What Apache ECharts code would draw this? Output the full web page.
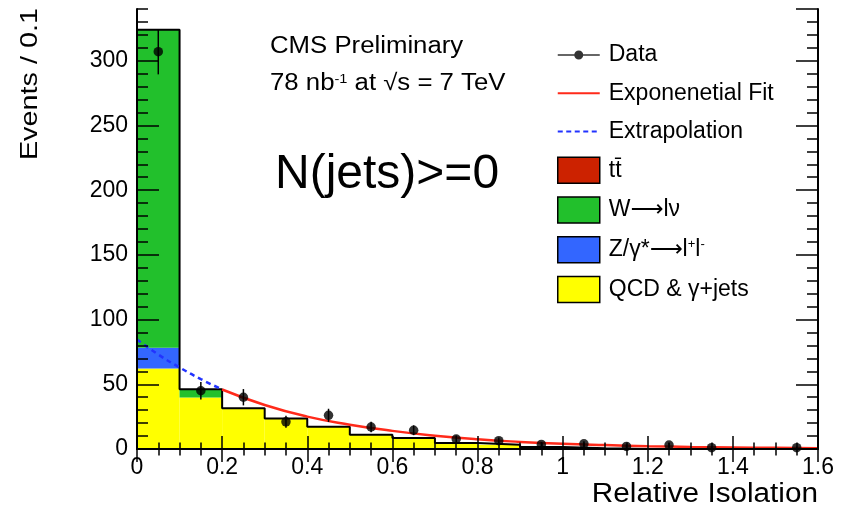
<!DOCTYPE html>
<html>
<head>
<meta charset="utf-8">
<script src="https://cdn.jsdelivr.net/npm/echarts@6/dist/echarts.min.js"></script>
<style>
  html, body { margin: 0; padding: 0; background: #fff; }
  #chart { width: 848px; height: 510px; }
</style>
</head>
<body>
<div id="chart"></div>
<script>
// Relative isolation, 0.1-wide bins (lower edges)
const binLow = [0, 0.1, 0.2, 0.3, 0.4, 0.5, 0.6, 0.7, 0.8, 0.9, 1.0, 1.1, 1.2, 1.3, 1.4, 1.5];
const binWidth = 0.1;

// Stacked simulation, events per bin
const qcdJets = [62.3, 39.7, 31.5, 23.5, 17.2, 11.0, 8.5, 4.6, 3.3, 1.6, 0.6, 0, 0, 0, 0, 0];
const zToLL   = [15.9, 0, 0, 0, 0, 0, 0, 0, 0, 0, 0, 0, 0, 0, 0, 0];
const wToLNu  = [245.7, 6.5, 0, 0, 0, 0, 0, 0, 0, 0, 0, 0, 0, 0, 0, 0];
const ttbar   = [0, 0, 0, 0, 0, 0, 0, 0, 0, 0, 0, 0, 0, 0, 0, 0];

// Observed data (bin centres), with statistical errors
const dataX   = [0.05, 0.15, 0.25, 0.35, 0.45, 0.55, 0.65, 0.75, 0.85, 0.95, 1.05, 1.15, 1.25, 1.35, 1.45, 1.55];
const dataY   = [307, 45, 40, 21, 26, 17, 14.5, 7.7, 6.4, 3.5, 4, 2, 3, 1, null, 1];
const dataErr = [17.5, 6.7, 6.3, 4.6, 5.1, 4.1, 3.8, 2.8, 2.5, 1.9, 2, 1.4, 1.7, 1, null, 1];

// Exponential fit in the sideband and its extrapolation into the signal region
const fitX    = [0.2, 0.3, 0.4, 0.5, 0.6, 0.7, 0.8, 0.9, 1.0, 1.1, 1.2, 1.3, 1.4, 1.5, 1.6];
const fitY    = [46, 34, 25, 18.8, 14, 10.3, 7.5, 5.5, 4, 3, 2.2, 1.6, 1.2, 0.9, 0.6];
const extrapX = [0, 0.05, 0.1, 0.15, 0.2];
const extrapY = [84.6, 73, 63, 54, 46];

// Axis ranges
const xRange = [0, 1.6];
const yRange = [0, 340];

const FONT = "'Liberation Sans', Arial, Helvetica, 'DejaVu Sans', sans-serif";
const chart = echarts.init(document.getElementById('chart'), null, { renderer: 'canvas' });

// Legend / series names
const NAME_TT = 'tt̄';
const NAME_W = 'W⟶lν';
const NAME_Z = 'Z/γ*⟶l+l-';
const NAME_QCD = 'QCD & γ+jets';

// Build stacked layers bottom-up
const layers = [
  { name: NAME_QCD, values: qcdJets, color: '#ffff00' },
  { name: NAME_Z,   values: zToLL,   color: '#3366ff' },
  { name: NAME_W,   values: wToLNu,  color: '#22c02c' },
  { name: NAME_TT,  values: ttbar,   color: '#cc2200' }
];

function renderBin(params, api) {
  const x0 = api.value(0), lo = api.value(1), hi = api.value(2);
  if (!(hi > lo)) return null;
  const a = api.coord([x0, lo]);
  const b = api.coord([x0 + binWidth, hi]);
  return {
    type: 'rect',
    shape: { x: a[0], y: b[1], width: b[0] - a[0], height: a[1] - b[1] },
    style: { fill: api.visual('color') }
  };
}

let base = binLow.map(() => 0);
const stackSeries = layers.map(layer => {
  const rows = binLow.map((x, i) => [x, base[i], base[i] + layer.values[i]]);
  base = base.map((b, i) => b + layer.values[i]);
  return {
    type: 'custom', name: layer.name, renderItem: renderBin,
    data: rows, encode: { x: 0, y: [1, 2] },
    itemStyle: { color: layer.color }, silent: true, z: 2
  };
});
const totals = base;

// Histogram outline of the total stack
const outline = [[binLow[0], 0]]
  .concat(binLow.map((x, i) => [x, totals[i]]))
  .concat([[binLow[binLow.length - 1] + binWidth, totals[totals.length - 1]]]);

const dataPoints = dataX.map((x, i) => [x, dataY[i], dataErr[i]]).filter(d => d[1] != null);

function renderErr(params, api) {
  const x = api.value(0), y = api.value(1), e = api.value(2);
  const top = api.coord([x, y + e]);
  const bot = api.coord([x, Math.max(y - e, yRange[0])]);
  return {
    type: 'line',
    shape: { x1: top[0], y1: top[1], x2: bot[0], y2: bot[1] },
    style: { stroke: '#000', lineWidth: 1.5 }
  };
}

const axisLine = { show: true, lineStyle: { color: '#000', width: 2 } };

function xAxisDef(pos, labels) {
  return {
    type: 'value', position: pos, min: xRange[0], max: xRange[1], interval: 0.2, z: 10,
    axisLine: axisLine,
    axisTick: { show: true, inside: true, length: 13, lineStyle: { color: '#000', width: 1.5 } },
    minorTick: { show: true, splitNumber: 4, length: 6.5, lineStyle: { color: '#000', width: 1.5 } },
    axisLabel: labels ? { show: true, color: '#000', fontSize: 23, fontFamily: FONT, margin: 7 } : { show: false },
    splitLine: { show: false }, minorSplitLine: { show: false }
  };
}
function yAxisDef(pos, step, tickLen, labels, line) {
  return {
    type: 'value', position: pos, min: yRange[0], max: yRange[1], interval: step, z: 10,
    axisLine: line ? axisLine : { show: false },
    axisTick: { show: true, inside: true, length: tickLen, lineStyle: { color: '#000', width: 1.5 } },
    axisLabel: labels ? { show: true, color: '#000', fontSize: 23, fontFamily: FONT, margin: 9, showMaxLabel: false,
                          formatter: v => (v % 50 === 0 ? String(v) : '') } : { show: false },
    splitLine: { show: false }
  };
}

// Legend icons drawn in a 42x26 box (tiny corner specks keep the full box size)
const CORNERS = ' M0 0h0.01v0.01h-0.01z M41.99 25.99h0.01v0.01h-0.01z';
const dataIcon = 'path://M0 12.25L16.6 12.25L16.6 13.75L0 13.75Z M25.4 12.25L42 12.25L42 13.75L25.4 13.75Z M16.5 13A4.5 4.5 0 1 1 25.5 13A4.5 4.5 0 1 1 16.5 13Z' + CORNERS;
const lineIcon = 'path://M0 12L42 12L42 14L0 14Z' + CORNERS;
const dashedIcon = 'path://M0 12h5v2h-5z M8.5 12h5v2h-5z M17 12h5v2h-5z M25.5 12h5v2h-5z M34 12h5v2h-5z' + CORNERS;
const boxStyle = { borderColor: '#000', borderWidth: 1.5 };

const supStyle = { fontSize: 13, fontFamily: FONT, color: '#000', verticalAlign: 'top', padding: [0, 0, 10, 0] };

const option = {
  animation: false,
  backgroundColor: '#fff',
  grid: { left: 137, right: 30, top: 9, bottom: 61, containLabel: false },
  xAxis: [xAxisDef('bottom', true), xAxisDef('top', false)],
  yAxis: [
    yAxisDef('left', 50, 22, true, true),
    yAxisDef('left', 10, 11, false, false),
    yAxisDef('right', 50, 22, false, true),
    yAxisDef('right', 10, 11, false, false)
  ],
  legend: {
    orient: 'vertical', left: 557, top: 42, padding: 0,
    itemWidth: 42, itemHeight: 26, itemGap: 12.2, selectedMode: false,
    textStyle: {
      color: '#000', fontSize: 23, fontFamily: FONT, padding: [0, 0, 0, 4],
      rich: { sup: supStyle }
    },
    formatter: name => (name === NAME_Z ? 'Z/γ*⟶l{sup|+}l{sup|-}' : name),
    data: [
      { name: 'Data', icon: dataIcon, itemStyle: { color: '#000' } },
      { name: 'Exponenetial Fit', icon: lineIcon },
      { name: 'Extrapolation', icon: dashedIcon },
      { name: NAME_TT, icon: 'rect', itemStyle: boxStyle },
      { name: NAME_W, icon: 'rect', itemStyle: boxStyle },
      { name: NAME_Z, icon: 'rect', itemStyle: boxStyle },
      { name: NAME_QCD, icon: 'rect', itemStyle: boxStyle }
    ]
  },
  series: stackSeries.concat([
    {
      type: 'line', name: 'outline', data: outline, step: 'end', symbol: 'none', silent: true, z: 3,
      lineStyle: { color: '#000', width: 2 }
    },
    {
      type: 'line', name: 'Extrapolation', data: extrapX.map((x, i) => [x, extrapY[i]]),
      smooth: true, symbol: 'none', silent: true, z: 4, color: '#2233ff',
      lineStyle: { color: '#2233ff', width: 2.5, type: [5, 4] }
    },
    {
      type: 'line', name: 'Exponenetial Fit', data: fitX.map((x, i) => [x, fitY[i]]),
      smooth: true, symbol: 'none', silent: true, z: 4, color: '#ff2a1a',
      lineStyle: { color: '#ff2a1a', width: 2.5 }
    },
    {
      type: 'custom', name: 'Data errors', renderItem: renderErr, data: dataPoints,
      encode: { x: 0, y: 1 }, silent: true, z: 5
    },
    {
      type: 'scatter', name: 'Data', data: dataPoints.map(d => [d[0], d[1]]),
      symbol: 'circle', symbolSize: 9.5, itemStyle: { color: '#000' }, silent: true, z: 6
    }
  ]),
  graphic: [
    {
      type: 'text', x: 30, y: 8, rotation: Math.PI / 2, scaleX: 1.2,
      style: { text: 'Events / 0.1', fill: '#000', fontSize: 24, fontFamily: FONT, align: 'right', verticalAlign: 'middle' }
    },
    {
      type: 'text', x: 818, y: 495, scaleX: 1.1,
      style: { text: 'Relative Isolation', fill: '#000', fontSize: 27, fontFamily: FONT, align: 'right', verticalAlign: 'middle' }
    },
    {
      type: 'text', x: 270, y: 47, scaleX: 1.12,
      style: { text: 'CMS Preliminary', fill: '#000', fontSize: 23, fontFamily: FONT, align: 'left', verticalAlign: 'middle' }
    },
    {
      type: 'text', x: 270, y: 84, scaleX: 1.12,
      style: {
        text: '78 nb{sup|-1} at √s = 7 TeV', fill: '#000', fontSize: 23, fontFamily: FONT,
        align: 'left', verticalAlign: 'middle',
        rich: { sup: { fontSize: 13, fontFamily: FONT, fill: '#000', verticalAlign: 'top', padding: [0, 0, 10, 0] } }
      }
    },
    {
      type: 'text', x: 275, y: 175,
      style: { text: 'N(jets)>=0', fill: '#000', fontSize: 48, fontFamily: FONT, align: 'left', verticalAlign: 'middle' }
    }
  ]
};

chart.setOption(option);
</script>
</body>
</html>
